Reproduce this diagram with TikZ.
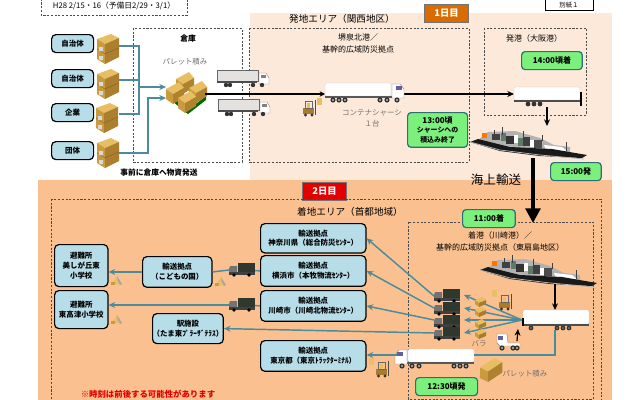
\documentclass[tikz,border=0pt]{standalone}
\usepackage{fontspec}
\setmainfont{Noto Sans CJK JP}
\usetikzlibrary{arrows.meta}
\definecolor{lightpeach}{HTML}{FDE9D9}
\definecolor{peach}{HTML}{FBC08F}
\definecolor{hubblue}{HTML}{B7DDE8}
\definecolor{tealline}{HTML}{4A8C9E}
\definecolor{hubgreen}{HTML}{7CF07C}
\definecolor{greenedge}{HTML}{2F6F73}
\definecolor{cardA}{HTML}{E8BE62}
\definecolor{cardB}{HTML}{C99A3E}
\definecolor{cardC}{HTML}{A87C2C}
\definecolor{palegray}{HTML}{E4E2DE}
\definecolor{cargodark}{HTML}{2F382F}
\definecolor{shipgreen}{HTML}{5F7A66}
\tikzset{
  hub/.style={draw=black,line width=.9pt,rounded corners=3.2pt,fill=hubblue,align=center,font=\bfseries\fontsize{5.6}{7.2}\selectfont,inner sep=0pt,anchor=north west},
  timebox/.style={draw=greenedge,line width=.9pt,rounded corners=2.6pt,fill=hubgreen,align=center,font=\bfseries\fontsize{6}{7.4}\selectfont,inner sep=0pt,anchor=north west},
  dashbox/.style={draw=black!70,dashed,dash pattern=on 1.6pt off 1.2pt,line width=.55pt},
  tealarrow/.style={draw=tealline,line width=1.1pt,-{Stealth[length=5pt,width=4.5pt]}},
  tealplain/.style={draw=tealline,line width=1.1pt},
  blackarrow/.style={draw=black,line width=.9pt,-{Stealth[length=5pt,width=4.5pt]}},
  label/.style={inner sep=0pt,align=center,font=\bfseries\fontsize{5.8}{8.6}\selectfont},
  grayl/.style={inner sep=0pt,align=center,text=black!55,font=\fontsize{5.6}{8.6}\selectfont},
  badge/.style={draw=black!55,line width=.8pt,text=white,inner sep=0pt,anchor=north west,font=\bfseries\fontsize{7}{8}\selectfont},
  cardbox/.pic={
    \fill[cardA] (0,5)--(14,0)--(22,4)--(8,10)--cycle;
    \fill[cardB] (0,5)--(8,10)--(8,30)--(0,25)--cycle;
    \fill[cardC!90!cardB] (8,10)--(22,4)--(22,23)--(8,30)--cycle;
    \draw[cardC!70!black,line width=.2pt] (8,20)--(22,14) (0,15)--(8,20);
    \fill[white!85!black] (2,13) rectangle (6,17) (2,22) rectangle (6,26);
  },
  smallbox/.pic={
    \fill[cardA] (-5,-1)--(2,-4)--(6,-1)--(-1,2)--cycle;
    \fill[cardB] (-5,-1)--(-1,2)--(-1,6)--(-5,3)--cycle;
    \fill[cardC] (-1,2)--(6,-1)--(6,3)--(-1,6)--cycle;
  },
  pallet/.pic={
    \fill[green!40!black] (0,20)--(22,38)--(40,24)--(40,28)--(22,42)--(0,24)--cycle;
    \foreach \a/\b in {10/0,0/10,23/9,12/19}{
      \begin{scope}[shift={(\a,\b)}]
        \fill[cardA] (0,7)--(13,0)--(18,6)--(7,12)--cycle;
        \fill[cardB] (0,7)--(7,12)--(7,22)--(0,17)--cycle;
        \fill[cardC!80!cardB] (7,12)--(18,6)--(18,15)--(7,22)--cycle;
      \end{scope}}
  },
  wheels/.style={fill=black!80},
  boxtruck/.pic={
    \fill[palegray,draw=black!60,line width=.3pt] (0,0) rectangle (41,11);
    \fill[black!70] (0,11) rectangle (40,13);
    \fill[white,draw=black!50,line width=.3pt] (42,3)--(49,3)--(52,8)--(52,14)--(42,14)--cycle;
    \fill[black!50] (44,5) rectangle (49,8);
    \foreach \w in {9,13,36,45}\fill[wheels] (\w,15) circle (2.2);
  },
  longtruck/.pic={
    \fill[white,draw=black!20,line width=.2pt,rounded corners=1pt] (0,0) rectangle (66,13);
    \fill[black!65] (0,13) rectangle (68,15);
    \fill[white,draw=black!50,line width=.3pt] (67,1)--(75,1)--(79,6)--(79,15)--(67,15)--cycle;
    \fill[blue!25!gray] (71,3) rectangle (77,7);
    \foreach \w in {8,14,20,55,62,72}{\fill[wheels] (\w,17) circle (2.6);\fill[white] (\w,17) circle (.8);}
  },
  chassis/.pic={
    \fill[white,draw=black!20,line width=.2pt,rounded corners=1pt] (0,0) rectangle (66,13);
    \fill[black!70] (0,13) rectangle (66,15);
    \fill[black] (66,5) rectangle (67.5,19);
    \foreach \w in {14,20,26}{\fill[wheels] (\w,17) circle (2.4);}
  },
  chassisb/.pic={
    \fill[white,draw=black!20,line width=.2pt,rounded corners=1pt] (0,0) rectangle (66,14);
    \fill[black!70] (-1,14) rectangle (66,16);
    \fill[black] (-1,8) rectangle (.5,16);
    \foreach \w in {8,34,40,46}{\fill[wheels] (\w,18) circle (2.4);\fill[white] (\w,18) circle (.7);}
  },
  tractor/.pic={
    \fill[white,draw=black!50,line width=.3pt] (0,0)--(10,0)--(11,9)--(23,9)--(23,12)--(3,12)--(0,9)--cycle;
    \fill[blue!25!gray] (1,2) rectangle (6,6);
    \foreach \w in {5,16,20}{\fill[wheels] (\w,14) circle (2.6);\fill[white] (\w,14) circle (.8);}
  },
  cargotruck/.pic={
    \fill[cargodark] (9,0) rectangle (26,9);
    \fill[black!55] (1,3)--(8,3)--(8,11)--(0,11)--(0,6)--cycle;
    \fill[black!75] (0,9) rectangle (26,12);
    \foreach \w in {5,20}\fill[black] (\w,12) circle (1.8);
  },
  forklift/.pic={
    \fill[cardC] (0,8) rectangle (11,14);
    \draw[black!60,line width=.5pt] (2,1) rectangle (9,8);
    \fill[cardA] (4,3) rectangle (7,8);
    \draw[black!70,line width=.7pt] (12,0)--(12,15);
    \foreach \w in {2.5,9}\fill[black!80] (\w,15) circle (1.7);
  },
  worker/.pic={
    \fill[cardA] (-5,5)--(0,-3)--(2,5)--cycle;
    \fill[black!35] (0,-3)--(5,5)--(3,6)--(0.5,1)--cycle;
    \fill[cardB] (-6,3) rectangle (-2,6);
  },
  ship/.pic={
    \fill[black!30] (8,13)--(18,5)--(45,4)--(70,11)--(84,18)--(100,20)--(100,25)--(60,25)--(15,18)--cycle;
    \fill[black!75] (22,7) rectangle (30,13);
    \fill[shipgreen] (31,6) rectangle (36,14);
    \fill[black!80] (36,9) rectangle (44,17);
    \fill[white] (44,8) rectangle (48,16);
    \fill[shipgreen] (48,11) rectangle (53,19);
    \fill[black!75] (53,10) rectangle (60,19);
    \fill[white] (60,13) rectangle (64,20);
    \fill[black!70] (64,13) rectangle (72,21);
    \fill[white] (74,18)--(92,20)--(97,24)--(76,24)--cycle;
    \fill[orange!90!red] (12,6) rectangle (17,11);
    \draw[black!75,line width=.6pt] (32,8)--(32,0) (53,13)--(53,4) (96,24)--(96,15) (24,8)--(24,3) (72,14)--(72,8);
    \fill[black!90] (0,15)--(8,12)--(40,20)--(82,22)--(117,28)--(112,31)--(70,29)--(30,24)--cycle;
    \draw[white!70!black,line width=.6pt] (0,15)--(30,23)--(70,28)--(114,32);
  }
}
\begin{document}
\begin{tikzpicture}[x=.75pt,y=-.75pt,every node/.append style={text=black}]
\useasboundingbox (0,0) rectangle (640,400);
\clip (0,0) rectangle (640,400);
\fill[white] (0,0) rectangle (640,400);
% backgrounds
\fill[lightpeach] (250,13) rectangle (612,181);
\fill[peach] (38,180) rectangle (612,400);
% top boxes
\draw[dashbox] (41,-5) rectangle (187,15);
\node[label,font=\fontsize{5.8}{7}\selectfont] (date) at (114,6) {H28 2/15・16（予備日2/29・3/1）};
\draw[black,line width=.7pt] (545,-3) rectangle (593,10);
\node[inner sep=0pt,font=\fontsize{4.8}{5.5}\selectfont] (annex) at (569,5) {別紙１};
\node[badge,fill=orange!85!black,minimum width=33pt,minimum height=13.5pt] (day1) at (424,4) {1日目};
\node[badge,fill=red!90!black,minimum width=33pt,minimum height=13.5pt] (day2) at (302,182) {2日目};
% dashed areas
\draw[dashbox] (133,28) rectangle (242,162);
\draw[dashbox] (249,28) rectangle (469,162);
\draw[dashbox] (484,28) rectangle (586,115);
\draw[dashbox] (51,199) rectangle (601,404);
\draw[dashbox] (408,222) rectangle (593,399);
% titles
\node[label,font=\fontsize{7.2}{8}\selectfont] (tdep) at (342,19) {発地エリア（関西地区）};
\node[label] (twh) at (188,39) {倉庫};
\node[grayl] (tpal) at (185,62) {パレット積み};
\node[label,font=\fontsize{6}{9}\selectfont] (tsakai) at (358,43) {堺泉北港／\\基幹的広域防災拠点};
\node[label,font=\fontsize{6}{8}\selectfont] (tosaka) at (534,38) {発港（大阪港）};
\node[grayl] (tchas) at (372,118.5) {コンテナシャーシ\\１台};
\node[label] (tpre) at (159,172.5) {事前に倉庫へ物資発送};
\node[label,font=\fontsize{9.4}{10}\selectfont] (tsea) at (496,180) {海上輸送};
\node[label,font=\fontsize{7.2}{8}\selectfont] (tarr) at (350,212) {着地エリア（首都地域）};
\node[label,font=\fontsize{6}{9}\selectfont] (tkawa) at (500,241) {着港（川崎港）／\\基幹的広域防災拠点（東扇島地区）};
\node[grayl] (tbara) at (479,344) {バラ};
\node[grayl] (tpal2) at (525,374) {パレット積み};
\node[label,text=red!90!black,font=\bfseries\fontsize{6.3}{8}\selectfont] (tnote) at (148,394) {※時刻は前後する可能性があります};
% senders
\node[hub,minimum width=31.5pt,minimum height=13.5pt] (s1) at (51,34) {自治体};
\node[hub,minimum width=31.5pt,minimum height=13.5pt] (s2) at (51,69) {自治体};
\node[hub,minimum width=31.5pt,minimum height=13.5pt] (s3) at (51,103) {企業};
\node[hub,minimum width=31.5pt,minimum height=13.5pt] (s4) at (51,141) {団体};
\pic at (97,34) {cardbox};
\pic at (97,69) {cardbox};
\pic at (96,103) {cardbox};
\pic at (97,138) {cardbox};
% sender connectors
\coordinate (b1) at (119,46); \coordinate (b2) at (119,80); \coordinate (b3) at (119,114); \coordinate (b4) at (119,153);
\coordinate (pa) at (166,87); \coordinate (pb) at (166,98);
\draw[tealplain] (b1) -| (139,87);
\draw[tealplain] (b2) -- (139,80);
\draw[tealplain] (b3) -| (139,87);
\draw[tealarrow] (139,87) -- (pa);
\draw[tealarrow] (b4) -| (148,98) -- (pb);
\pic at (166,72) {pallet};
\pic at (217,70) {boxtruck};
\pic at (218,99) {boxtruck};
\pic at (303,100) {forklift};
\fill[cardA] (317,98) rectangle (322,105);
% hub top route
\coordinate (p1) at (205,94); \coordinate (t1l) at (325,94); \coordinate (t1r) at (404,94); \coordinate (c1l) at (514,94);
\draw[black,line width=1.3pt,-{Stealth[length=4pt,width=4pt]}] (p1) -- (t1l);
\draw[blackarrow] (t1r) -- (c1l);
\pic at (325,83) {longtruck};
\pic at (514,87) {chassis};
\node[timebox,minimum width=45pt,minimum height=26pt] (t13) at (407,112) {13:00頃\\[-.5pt]{\fontsize{5.2}{6.6}\selectfont シャーシへの}\\[-.5pt]{\fontsize{5.2}{6.6}\selectfont 積込み終了}};
\node[timebox,minimum width=45.5pt,minimum height=13.5pt] (t14) at (521,51) {14:00頃着};
\node[timebox,minimum width=38pt,minimum height=13.5pt] (t15) at (550,162) {15:00発};
\node[timebox,minimum width=39.5pt,minimum height=13.5pt] (t11) at (462,209) {11:00着};
\node[timebox,minimum width=46.5pt,minimum height=13.5pt] (t12) at (415,377) {12:30頃発};
\coordinate (c1b) at (547,107); \coordinate (s1t) at (547,126);
\draw[blackarrow] (c1b) -- (s1t);
\pic at (470,127) {ship};
% sea arrow
\coordinate (s1b) at (533,158); \coordinate (port2) at (533,223);
\draw[black,line width=3.4pt,-{Triangle[length=11pt,width=11pt]}] (s1b) -- (port2);
\pic at (480,255) {ship};
\coordinate (s2b) at (555,284); \coordinate (c2t) at (555,310);
\draw[blackarrow] (s2b) -- (c2t);
\pic at (523,310) {chassisb};
% hubs
\node[hub,minimum width=79pt,minimum height=22pt] (h1) at (260,223) {輸送拠点\\神奈川県（総合防災ｾﾝﾀｰ）};
\node[hub,minimum width=79pt,minimum height=23pt] (h2) at (260,255) {輸送拠点\\横浜市（本牧物流ｾﾝﾀｰ）};
\node[hub,minimum width=79pt,minimum height=23pt] (h3) at (260,290) {輸送拠点\\川崎市（川崎北物流ｾﾝﾀｰ）};
\node[hub,minimum width=79pt,minimum height=23pt] (h4) at (260,340) {輸送拠点\\東京都（東京ﾄﾗｯｸﾀｰﾐﾅﾙ）};
\node[hub,minimum width=52pt,minimum height=23pt] (kodomo) at (142,256) {輸送拠点\\（こどもの国）};
\node[hub,minimum width=40pt,minimum height=31.5pt] (sh1) at (54,244) {避難所\\美しが丘東\\小学校};
\node[hub,minimum width=40pt,minimum height=28.5pt] (sh2) at (54,290) {避難所\\東高津小学校};
\node[hub,minimum width=52.5pt,minimum height=22.5pt] (eki) at (152,313) {駅施設\\（たま東ﾌﾟﾗｰｻﾞﾃﾗｽ）};
% trucks at centre
\pic at (434,289) {cargotruck};
\pic at (434,302) {cargotruck};
\pic at (434,315) {cargotruck};
\pic at (434,327) {cargotruck};
\coordinate (k1) at (434,296); \coordinate (k2) at (434,308); \coordinate (k3) at (434,320); \coordinate (k4) at (434,333);
\coordinate (kr1) at (464,295); \coordinate (kr2) at (464,308); \coordinate (kr3) at (464,320); \coordinate (kr4) at (464,333);
\coordinate (c2l) at (522,320);
\draw[tealarrow] (c2l) -- (kr1);
\draw[tealarrow] (c2l) -- (kr2);
\draw[tealarrow] (c2l) -- (kr3);
\draw[tealarrow] (c2l) -- (kr4);
\draw[tealarrow] (k1) -- (h1.east);
\draw[tealarrow] (k2) -- (h2.east);
\draw[tealarrow] (k3) -- (h3.east);
\draw[tealarrow] (k4) -- (eki.east);
\pic at (480,301) {smallbox};
\pic at (480,311) {smallbox};
\pic at (480,323) {smallbox};
\pic at (480,333) {smallbox};
\fill[cardA!85!peach] (492,290) rectangle (497,297);
\pic at (499,294) {forklift};
% tractor
\pic at (497,334) {tractor};
\coordinate (tr) at (517,341); \coordinate (trt) at (518,329);
\draw[blackarrow] (tr) -- (trt);
% bottom truck
\pic[xscale=-1] at (474,349) {longtruck};
\coordinate (t2l) at (397,355); \coordinate (t2r) at (474,355); \coordinate (c2b) at (555,330);
\draw[tealarrow] (t2l) -- (h4.east |- t2l);
\draw[tealplain] (t2r) -| (c2b);
\pic at (376,361) {forklift};
\fill[cardA!85!peach] (369,358) rectangle (374,365);
% pallet 2
\begin{scope}[shift={(480,358)},scale=.8]
\fill[cardA] (0,12)--(18,0)--(28,5)--(10,17)--cycle;
\fill[cardB] (0,12)--(10,17)--(10,30)--(0,25)--cycle;
\fill[cardC!80!cardB] (10,17)--(28,5)--(28,18)--(10,30)--cycle;
\end{scope}
% left trucks
\coordinate (tk1l) at (229,270); \coordinate (tk2l) at (229,305);
\pic at (229,263) {cargotruck};
\pic at (229,298) {cargotruck};
\draw[tealplain] (kodomo.east) -- (tk1l);
\draw[tealarrow] (kodomo.west) -- (sh1.east |- kodomo.west);
\draw[tealarrow] (tk2l) -- (sh2.east |- tk2l);
\draw[tealplain] (h2.west) -- (255,270.5);
\draw[tealplain] (h3.west) -- (255,305.5);
\pic at (117,279) {worker};
\pic at (221,280) {worker};
\pic at (117,318) {worker};
\end{tikzpicture}
\end{document}
